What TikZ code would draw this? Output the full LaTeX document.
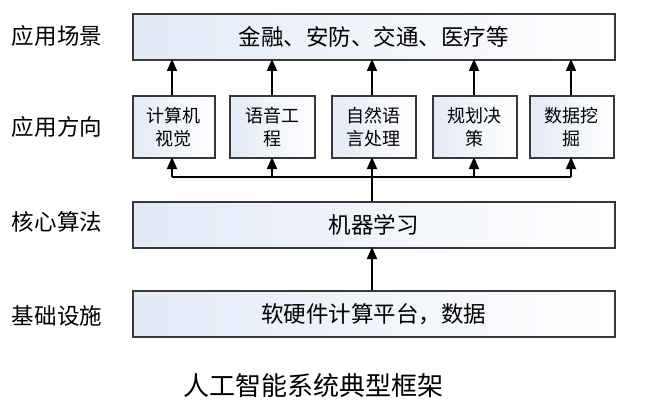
\documentclass[tikz,border=0pt]{standalone}
\usepackage{fontspec}
\setmainfont{Noto Sans CJK SC}
\usetikzlibrary{arrows.meta}
\definecolor{boxleft}{RGB}{226,234,247}
\begin{document}
\begin{tikzpicture}[x=1pt,y=-1pt,
  box/.style={draw=black!78,line width=1.6pt,left color=boxleft,right color=white,inner sep=0pt,anchor=north west},
  lbl/.style={font=\fontsize{22.5}{26}\selectfont,inner sep=0pt},
  sml/.style={font=\fontsize{18}{23}\selectfont,align=center,inner sep=0pt},
  arr/.style={line width=1.8pt,-{Triangle[width=10pt,length=12pt]}},
  ln/.style={line width=1.8pt}]
\useasboundingbox (0,0) rectangle (652,414);
% layer labels
\node[lbl] (l1) at (57,36) {应用场景};
\node[lbl] (l2) at (57,127) {应用方向};
\node[lbl] (l3) at (57,222) {核心算法};
\node[lbl] (l4) at (57,316) {基础设施};
% boxes
\node[box,minimum width=482pt,minimum height=46pt] (top) at (132,13) {};
\node[lbl] at (top.center) {金融、安防、交通、医疗等};
\node[box,minimum width=82pt,minimum height=62pt] (a1) at (132,95) {};
\node[box,minimum width=85pt,minimum height=62pt] (a2) at (229,95) {};
\node[box,minimum width=84pt,minimum height=62pt] (a3) at (331,95) {};
\node[box,minimum width=84pt,minimum height=62pt] (a4) at (432,95) {};
\node[box,minimum width=84pt,minimum height=62pt] (a5) at (529,95) {};
\node[sml] at (a1.center) {计算机\\视觉};
\node[sml] at (a2.center) {语音工\\程};
\node[sml] at (a3.center) {自然语\\言处理};
\node[sml] at (a4.center) {规划决\\策};
\node[sml] at (a5.center) {数据挖\\掘};
\node[box,minimum width=482pt,minimum height=46pt] (ml) at (132,201) {};
\node[lbl] at (ml.center) {机器学习};
\node[box,minimum width=482pt,minimum height=46pt] (inf) at (132,290) {};
\node[lbl] at (inf.center) {软硬件计算平台，数据};
\node[font=\fontsize{26}{30}\selectfont,inner sep=0pt] (cap) at (313,386) {人工智能系统典型框架};
% connectors
\coordinate (bus) at (372,177);
\foreach \i/\x in {1/172,2/272,3/372,4/474,5/571}{
  \draw[arr] (\x,95) -- (\x,59);
  \draw[arr] (\x,177) -- (\x,157);
}
\draw[ln] (172,177) -- (571,177);
\draw[ln] (ml.north -| bus) -- (bus);
\draw[arr] (inf.north -| bus) -- (372,247);
\end{tikzpicture}
\end{document}
